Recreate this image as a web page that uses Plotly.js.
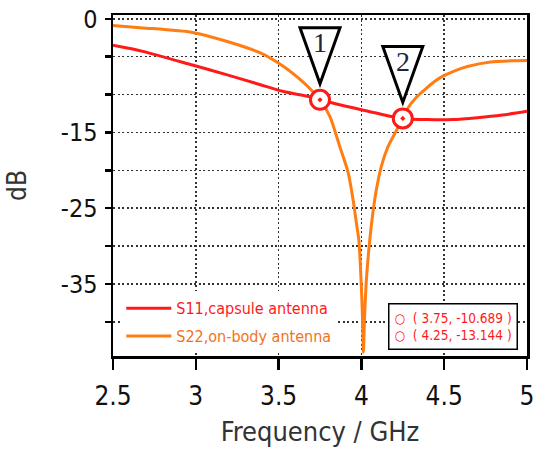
<!DOCTYPE html>
<html>
<head>
<meta charset="utf-8">
<script src="https://cdn.plot.ly/plotly-3.0.1.min.js"></script>
<style>
html,body{margin:0;padding:0;background:#fff;}
#chart{width:536px;height:454px;}
</style>
</head>
<body>
<div id="chart"></div>
<script>
// ---- data ----
const freqS11 = [2.5, 2.68, 2.98, 3.19, 3.39, 3.53, 3.69, 3.75, 3.9, 4.0, 4.12, 4.25, 4.4, 4.55, 4.7, 4.85, 5.0];
const dbS11   = [-3.5, -4.3, -6.1, -7.4, -8.7, -9.6, -10.3, -10.689, -11.5, -12.0, -12.6, -13.144, -13.3, -13.3, -13.05, -12.7, -12.2];

const freqS22 = [2.5, 2.68, 2.98, 3.19, 3.39, 3.53, 3.65, 3.71, 3.75, 3.81, 3.87, 3.92, 3.95, 3.97, 3.985, 3.998, 4.006, 4.012,
                 4.018, 4.03, 4.05, 4.07, 4.09, 4.12, 4.16, 4.215, 4.25, 4.28, 4.335, 4.38, 4.44, 4.49, 4.56, 4.64, 4.78, 4.9, 5.0];
const dbS22   = [-0.9, -1.2, -1.8, -3.0, -4.5, -6.3, -8.4, -9.7, -10.689, -12.9, -16.9, -20.3, -23.9, -27.0, -29.3, -34.5, -39.0, -44.0,
                 -40.0, -34.5, -29.3, -25.5, -22.6, -19.5, -16.9, -14.6, -13.144, -11.8, -10.3, -9.4, -8.3, -7.6, -6.9, -6.3, -5.7, -5.55, -5.5];

const markerFreq   = [3.75, 4.25];
const markerDb     = [-10.689, -13.144];
const markerLabels = ['1', '2'];

const xTickVals = [2.5, 3, 3.5, 4, 4.5, 5];
const xTickText = ['2.5', '3', '3.5', '4', '4.5', '5'];
const yTickVals = [0, -5, -10, -15, -20, -25, -30, -35, -40];
const yTickText = ['0', '', '', '-15', '', '-25', '', '-35', ''];

const seriesNames = ['S11,capsule antenna', 'S22,on-body antenna'];
// ---------------------------------------

const RED = '#ff1a1a';
const ORANGE = '#ff7d12';
const ORANGE_TEXT = '#f0731a';
const FONT = '"DejaVu Sans Condensed", "DejaVu Sans", sans-serif';

const traces = [
  {
    x: freqS11, y: dbS11, type: 'scatter', mode: 'lines',
    name: '<span style="color:' + RED + '">' + seriesNames[0] + '</span>',
    line: {color: RED, width: 3, shape: 'spline', smoothing: 0.7}, legendgroup: 'a'
  },
  {
    x: freqS22, y: dbS22, type: 'scatter', mode: 'lines',
    name: '<span style="color:' + ORANGE_TEXT + '">' + seriesNames[1] + '</span>',
    line: {color: ORANGE, width: 3, shape: 'spline', smoothing: 0.7}, legendgroup: 'b'
  },
  {
    x: markerFreq, y: markerDb, type: 'scatter', mode: 'markers', showlegend: false,
    marker: {symbol: 'circle-dot', size: 19, color: '#ffffff', line: {color: RED, width: 3}},
    hoverinfo: 'x+y'
  }
];

const shapes = markerFreq.map((f, i) => ({
  type: 'path', xref: 'x', yref: 'y',
  xsizemode: 'pixel', ysizemode: 'pixel',
  xanchor: f, yanchor: markerDb[i],
  path: 'M -20,72 L 20,72 L 0,16 Z',
  fillcolor: '#ffffff',
  line: {color: '#000000', width: 3},
  layer: 'above'
}));

const annotations = markerFreq.map((f, i) => ({
  x: f, y: markerDb[i], xref: 'x', yref: 'y',
  text: markerLabels[i], showarrow: false,
  yshift: 57, xshift: 0,
  font: {family: '"Liberation Serif", serif', size: 28, color: '#23233f'}
}));

const readout = markerFreq.map((f, i) =>
  '○  ( ' + f.toFixed(2) + ', ' + markerDb[i].toFixed(3) + ' )').join('<br>');

annotations.push({
  xref: 'paper', yref: 'paper', x: 0.978, y: 0.018, xanchor: 'right', yanchor: 'bottom',
  text: readout, showarrow: false, align: 'left',
  font: {family: FONT, size: 13.5, color: RED},
  bgcolor: '#ffffff', bordercolor: '#000000', borderwidth: 1.5, borderpad: 5
});

const layout = {
  width: 536, height: 454,
  margin: {l: 113, r: 9, t: 15, b: 98},
  paper_bgcolor: '#ffffff', plot_bgcolor: '#ffffff',
  font: {family: FONT, color: '#111111'},
  showlegend: true,
  legend: {
    x: 0.02, y: 0.008, xanchor: 'left', yanchor: 'bottom',
    bgcolor: '#ffffff', borderwidth: 0,
    font: {family: FONT, size: 16},
    tracegroupgap: 4, itemwidth: 45, traceorder: 'grouped'
  },
  xaxis: {
    range: [2.5, 5],
    tickvals: xTickVals, ticktext: xTickText,
    ticks: 'outside', ticklen: 11, tickwidth: 2.5, tickcolor: '#000',
    showline: true, linecolor: '#000', linewidth: 2.5, mirror: true,
    showgrid: true, gridcolor: '#333', gridwidth: 1.5, griddash: '2px,2.5px',
    zeroline: false,
    tickfont: {family: FONT, size: 26, color: '#111'},
    ticklabelstandoff: 4,
    title: {text: 'Frequency / GHz', font: {family: FONT, size: 27, color: '#333'}, standoff: 13}
  },
  yaxis: {
    range: [-44.5, 0.5],
    tickvals: yTickVals, ticktext: yTickText,
    ticks: 'outside', ticklen: 6, tickwidth: 2.5, tickcolor: '#000',
    showline: true, linecolor: '#000', linewidth: 2.5, mirror: true,
    showgrid: true, gridcolor: '#333', gridwidth: 1.5, griddash: '2px,2.5px',
    zeroline: false,
    tickfont: {family: FONT, size: 25, color: '#111'},
    ticklabelstandoff: 2,
    title: {text: 'dB', font: {family: FONT, size: 26, color: '#333'}, standoff: 27}
  },
  shapes: shapes,
  annotations: annotations
};

Plotly.newPlot('chart', traces, layout, {displayModeBar: false, staticPlot: true});
</script>
</body>
</html>
